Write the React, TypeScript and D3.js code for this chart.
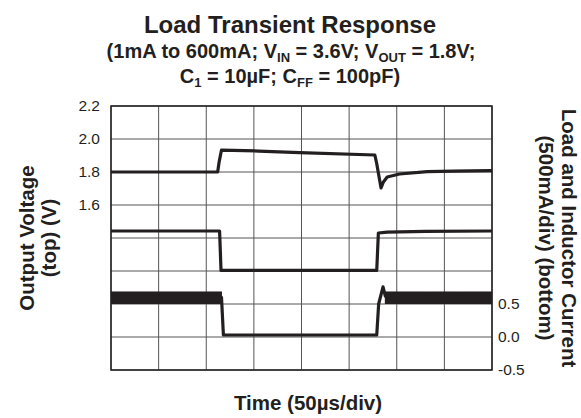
import React from 'react';
import * as d3 from 'd3';

// time in µs, 50µs per division
const timeDomain = [0, 400];
// left axis (V), right axis (A)
const voltDomain = [0.6, 2.2];
const ampDomain = [-0.5, 3.5];

const voltTicks = [1.6, 1.8, 2.0, 2.2];
const ampTicks = [-0.5, 0.0, 0.5];

// output voltage (top trace)
const vTime = [0, 112, 113.5, 116, 155, 198, 277, 279, 283.5, 286, 290, 303, 332, 360, 398, 400];
const vOut = [1.8, 1.8, 1.86, 1.933, 1.927, 1.917, 1.903, 1.85, 1.703, 1.74, 1.77, 1.788, 1.802, 1.805, 1.808, 1.808];

// load current (middle trace, right axis)
const loadTime = [0, 114, 115.5, 279, 280.7, 290, 330, 400];
const loadAmp = [1.606, 1.606, 1.01, 1.01, 1.576, 1.59, 1.6, 1.606];

// inductor current (bottom trace, right axis)
const indTime = [0, 116, 118, 279, 281, 285.6, 288, 400];
const indAmp = [0.6, 0.6, 0.03, 0.03, 0.5, 0.76, 0.62, 0.6];

// switching ripple band of the inductor current
const rippleStart = [0, 287.5];
const rippleEnd = [116.5, 400];
const rippleLo = [0.5, 0.5];
const rippleHi = [0.69, 0.69];

const W = 581, H = 418;
const left = 111, right = 492, top = 106, bottom = 370;
const ink = '#231f20';
const font = '"Liberation Sans", Arial, Helvetica, sans-serif';

export default function App() {
  const x = d3.scaleLinear().domain(timeDomain).range([left, right]);
  const yV = d3.scaleLinear().domain(voltDomain).range([bottom, top]);
  const yA = d3.scaleLinear().domain(ampDomain).range([bottom, top]);

  const vLine = d3.line<number>().x((d, i) => x(vTime[i])).y(d => yV(d));
  const loadLine = d3.line<number>().x((d, i) => x(loadTime[i])).y(d => yA(d));
  const indLine = d3.line<number>().x((d, i) => x(indTime[i])).y(d => yA(d));

  const vGrid = d3.range(timeDomain[0], timeDomain[1] + 1, 50);
  const hGrid = d3.range(0, 9).map(i => voltDomain[0] + i * 0.2);

  return (
    <svg width={W} height={H} style={{ position: 'absolute', left: 0, top: 0 }} fontFamily={font}>
      <rect width={W} height={H} fill="#fff" />

      {/* titles */}
      <text x={290} y={33} textAnchor="middle" fontSize={24} fontWeight="bold" fill={ink}>Load Transient Response</text>
      <text x={291} y={58} textAnchor="middle" fontSize={20} fontWeight="bold" fill={ink}>
        (1mA to 600mA; V<tspan dy={4} fontSize={13}>IN</tspan><tspan dy={-4}> = 3.6V; V</tspan>
        <tspan dy={4} fontSize={13}>OUT</tspan><tspan dy={-4}> = 1.8V;</tspan>
      </text>
      <text x={290} y={83} textAnchor="middle" fontSize={20} fontWeight="bold" fill={ink}>
        C<tspan dy={4} fontSize={13}>1</tspan><tspan dy={-4}> = 10µF; C</tspan>
        <tspan dy={4} fontSize={13}>FF</tspan><tspan dy={-4}> = 100pF)</tspan>
      </text>

      {/* grid */}
      {vGrid.map(t => (
        <line key={'v' + t} x1={x(t)} x2={x(t)} y1={top} y2={bottom} stroke="#555" strokeWidth={1} />
      ))}
      {hGrid.map(v => (
        <line key={'h' + v} x1={left} x2={right} y1={yV(v)} y2={yV(v)} stroke="#555" strokeWidth={1} />
      ))}
      <rect x={left} y={top} width={right - left} height={bottom - top} fill="none" stroke={ink} strokeWidth={1.5} />

      {/* tick labels */}
      {voltTicks.map(v => (
        <text key={'lv' + v} x={100} y={yV(v)} dy="0.35em" textAnchor="end" fontSize={15.5} fill={ink}>{v.toFixed(1)}</text>
      ))}
      {ampTicks.map(v => (
        <text key={'la' + v} x={498} y={yA(v)} dy="0.35em" textAnchor="start" fontSize={15.5} fill={ink}>{v.toFixed(1)}</text>
      ))}

      {/* traces */}
      {rippleStart.map((s, i) => (
        <rect key={'r' + i} x={x(s)} width={x(rippleEnd[i]) - x(s)} y={yA(rippleHi[i])}
          height={yA(rippleLo[i]) - yA(rippleHi[i])} fill={ink} />
      ))}
      <path d={indLine(indAmp) || ''} fill="none" stroke={ink} strokeWidth={3.2} strokeLinejoin="round" />
      <path d={loadLine(loadAmp) || ''} fill="none" stroke={ink} strokeWidth={3.2} strokeLinejoin="round" />
      <path d={vLine(vOut) || ''} fill="none" stroke={ink} strokeWidth={3.2} strokeLinejoin="round" />

      {/* axis titles */}
      <text transform="translate(34,238) rotate(-90)" textAnchor="middle" fontSize={20.5} fontWeight="bold" fill={ink}>Output Voltage</text>
      <text transform="translate(56,238) rotate(-90)" textAnchor="middle" fontSize={20.5} fontWeight="bold" fill={ink}>(top) (V)</text>
      <text transform="translate(562,238) rotate(90)" textAnchor="middle" fontSize={20.5} fontWeight="bold" fill={ink}>Load and Inductor Current</text>
      <text transform="translate(539,238) rotate(90)" textAnchor="middle" fontSize={20.5} fontWeight="bold" fill={ink}>(500mA/div) (bottom)</text>
      <text x={308} y={410} textAnchor="middle" fontSize={20.5} fontWeight="bold" fill={ink}>Time (50µs/div)</text>
    </svg>
  );
}
